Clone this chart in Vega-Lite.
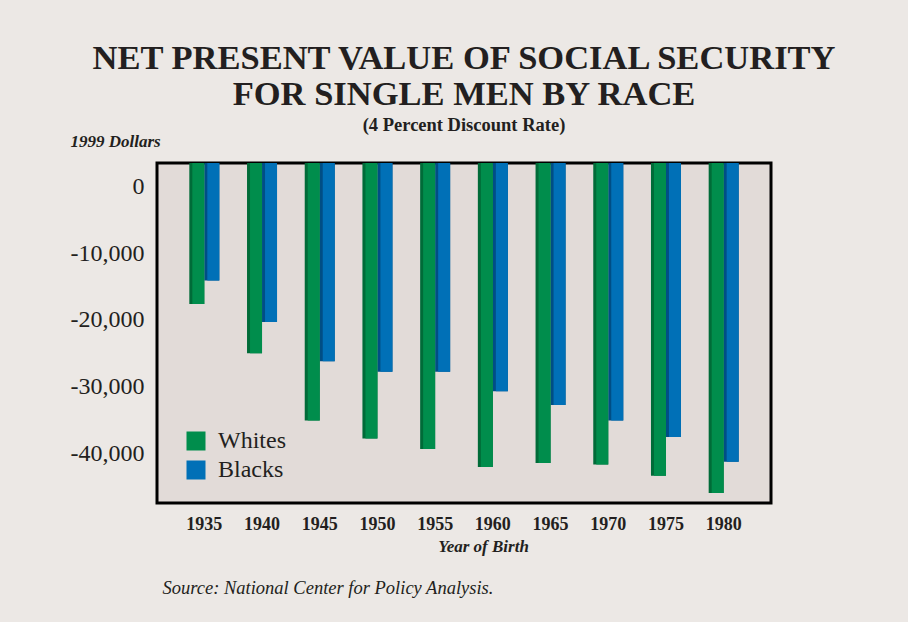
{
  "$schema": "https://vega.github.io/schema/vega-lite/v6.json",
  "width": 614,
  "height": 340,
  "autosize": {"type": "none"},
  "padding": {"left": 157, "top": 163, "right": 137, "bottom": 119},
  "background": "#ECE8E5",
  "view": {"fill": "#E2DBD8", "stroke": "#000000", "strokeWidth": 3},
  "title": {
    "text": ["NET PRESENT VALUE OF SOCIAL SECURITY", "FOR SINGLE MEN BY RACE"],
    "subtitle": "(4 Percent Discount Rate)",
    "frame": "group",
    "anchor": "middle",
    "font": "Liberation Serif",
    "fontSize": 34.5,
    "fontWeight": "bold",
    "lineHeight": 36,
    "color": "#231F20",
    "subtitleFont": "Liberation Serif",
    "subtitleFontSize": 18.5,
    "subtitleFontWeight": "bold",
    "subtitleColor": "#231F20",
    "subtitlePadding": 3,
    "offset": -3
  },
  "data": {
    "values": [
      {"year": "1935", "race": "Whites", "value": -17600},
      {"year": "1935", "race": "Blacks", "value": -14100},
      {"year": "1940", "race": "Whites", "value": -25000},
      {"year": "1940", "race": "Blacks", "value": -20300},
      {"year": "1945", "race": "Whites", "value": -35100},
      {"year": "1945", "race": "Blacks", "value": -26200},
      {"year": "1950", "race": "Whites", "value": -37800},
      {"year": "1950", "race": "Blacks", "value": -27800},
      {"year": "1955", "race": "Whites", "value": -39400},
      {"year": "1955", "race": "Blacks", "value": -27800},
      {"year": "1960", "race": "Whites", "value": -42100},
      {"year": "1960", "race": "Blacks", "value": -30700},
      {"year": "1965", "race": "Whites", "value": -41500},
      {"year": "1965", "race": "Blacks", "value": -32800},
      {"year": "1970", "race": "Whites", "value": -41700},
      {"year": "1970", "race": "Blacks", "value": -35100},
      {"year": "1975", "race": "Whites", "value": -43400},
      {"year": "1975", "race": "Blacks", "value": -37600},
      {"year": "1980", "race": "Whites", "value": -46000},
      {"year": "1980", "race": "Blacks", "value": -41300}
    ]
  },
  "encoding": {
    "x": {
      "field": "year",
      "type": "nominal",
      "scale": {"paddingInner": 0.48, "paddingOuter": 0.56}
    },
    "xOffset": {
      "field": "race",
      "type": "nominal",
      "sort": ["Whites", "Blacks"],
      "scale": {"paddingInner": 0, "paddingOuter": 0}
    },
    "y": {
      "field": "value",
      "type": "quantitative",
      "scale": {"domain": [-47500, 3560], "nice": false, "zero": false},
      "axis": {
        "values": [0, -10000, -20000, -30000, -40000],
        "labelExpr": "replace(format(datum.value, ','), '\u2212', '-')",
        "labelFont": "Liberation Serif",
        "labelFontSize": 24,
        "labelColor": "#231F20",
        "labelPadding": 13,
        "ticks": false,
        "domain": false,
        "grid": false,
        "title": "1999 Dollars",
        "titleAngle": 0,
        "titleAlign": "left",
        "titleBaseline": "alphabetic",
        "titleX": -87,
        "titleY": -17,
        "titleFont": "Liberation Serif",
        "titleFontSize": 17,
        "titleFontWeight": "bold",
        "titleFontStyle": "italic",
        "titleColor": "#231F20"
      }
    },
    "y2": {"datum": 3560}
  },
  "layer": [
    {
      "mark": {"type": "bar"},
      "encoding": {
        "x": {
          "field": "year",
          "type": "nominal",
          "axis": {
            "orient": "bottom",
            "labelAngle": 0,
            "labelFont": "Liberation Serif",
            "labelFontSize": 18,
            "labelFontWeight": "bold",
            "labelColor": "#231F20",
            "labelPadding": 12,
            "ticks": false,
            "domain": false,
            "title": "Year of Birth",
            "titleFont": "Liberation Serif",
            "titleFontSize": 17,
            "titleFontWeight": "bold",
            "titleFontStyle": "italic",
            "titleColor": "#231F20",
            "titleX": 326,
            "titlePadding": 5
          }
        },
        "color": {
          "field": "race",
          "type": "nominal",
          "scale": {"domain": ["Whites", "Blacks"], "range": ["#006B38", "#004E85"]},
          "legend": null
        }
      }
    },
    {
      "mark": {"type": "bar", "width": {"band": 0.8}, "xOffset": -1.5},
      "encoding": {
        "x": {
          "field": "year",
          "type": "nominal",
          "axis": {
            "orient": "bottom",
            "labels": false,
            "ticks": false,
            "domain": false,
            "grid": false,
            "title": "Source: National Center for Policy Analysis.",
            "titleFont": "Liberation Serif",
            "titleFontSize": 18.5,
            "titleFontWeight": "normal",
            "titleFontStyle": "italic",
            "titleColor": "#231F20",
            "titleAlign": "left",
            "titleAnchor": "start",
            "titleBaseline": "alphabetic",
            "titleX": 5,
            "titleY": 90
          }
        },
        "color": {
          "field": "race",
          "type": "nominal",
          "scale": {"domain": ["Whites", "Blacks"], "range": ["#008D4C", "#0070B7"]},
          "legend": {
            "orient": "none",
            "legendX": 27,
            "legendY": 266,
            "title": null,
            "symbolType": "square",
            "symbolSize": 361,
            "symbolStrokeWidth": 0,
            "symbolOpacity": 1,
            "labelFont": "Liberation Serif",
            "labelFontSize": 24,
            "labelColor": "#231F20",
            "labelOffset": 10,
            "rowPadding": 5
          }
        }
      }
    }
  ],
  "resolve": {"scale": {"color": "independent"}, "axis": {"x": "independent"}}
}
